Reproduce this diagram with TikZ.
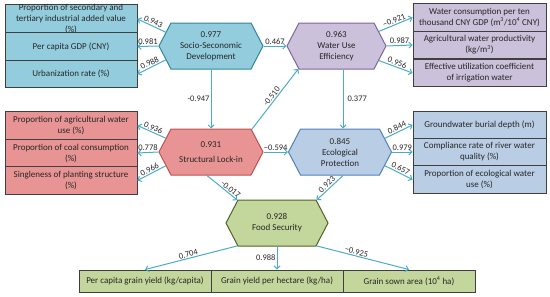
\documentclass[tikz,border=0pt]{standalone}
\usepackage{fontspec}
\setmainfont{Carlito}
\usetikzlibrary{shapes.symbols,arrows.meta}
\definecolor{cyanF}{HTML}{93CDDD}
\definecolor{cyanD}{HTML}{31859C}
\definecolor{purF}{HTML}{CCC1DA}
\definecolor{purD}{HTML}{8064A2}
\definecolor{redF}{HTML}{E99494}
\definecolor{redD}{HTML}{C0504D}
\definecolor{bluF}{HTML}{B9CDE5}
\definecolor{bluD}{HTML}{4F81BD}
\definecolor{grnF}{HTML}{C3D69B}
\definecolor{grnD}{HTML}{4F6228}
\definecolor{arrC}{HTML}{4BACC6}
\definecolor{txtC}{HTML}{262626}
\definecolor{boxD}{HTML}{3F3F3F}
\tikzset{
 ind/.style={draw=boxD, line width=0.9pt, minimum width=132pt, minimum height=27.5pt, inner sep=0pt, align=center, font=\fontsize{9}{11}\selectfont, text=txtC},
 lat/.style={signal, signal to=west and east, signal pointer angle=125, minimum width=104pt, minimum height=46pt, inner sep=0pt, line width=1pt, align=center, font=\fontsize{9}{11}\selectfont, text=txtC},
 arr/.style={draw=arrC, line width=1pt, -{Straight Barb[length=3pt,width=6pt]}},
 lab/.style={font=\fontsize{8.5}{10}\selectfont, text=txtC, inner sep=1pt},
}
\begin{document}
\begin{tikzpicture}[x=1pt,y=-1pt]
\useasboundingbox (0,0) rectangle (550,297);
% indicator boxes
\node[ind, fill=cyanF] (s1) at (71,19) {Proportion of secondary and\\tertiary industrial added value\\(\%)};
\node[ind, fill=cyanF] (s2) at (71,46.5) {Per capita GDP (CNY)};
\node[ind, fill=cyanF] (s3) at (71,74) {Urbanization rate (\%)};
\node[ind, fill=purF, minimum width=133pt] (w1) at (479.5,17.5) {Water consumption per ten\\thousand CNY GDP (m\textsuperscript{3}/10\textsuperscript{4} CNY)};
\node[ind, fill=purF, minimum width=133pt] (w2) at (479.5,45) {Agricultural water productivity\\(kg/m\textsuperscript{3})};
\node[ind, fill=purF, minimum width=133pt] (w3) at (479.5,73) {Effective utilization coefficient\\of irrigation water};
\node[ind, fill=redF] (t1) at (71,125.5) {Proportion of agricultural water\\use (\%)};
\node[ind, fill=redF] (t2) at (71,153) {Proportion of coal consumption\\(\%)};
\node[ind, fill=redF] (t3) at (71,180.5) {Singleness of planting structure\\(\%)};
\node[ind, fill=bluF, minimum width=133pt] (e1) at (479.5,125) {Groundwater burial depth (m)};
\node[ind, fill=bluF, minimum width=133pt] (e2) at (479.5,152) {Compliance rate of river water\\quality (\%)};
\node[ind, fill=bluF, minimum width=133pt] (e3) at (479.5,179.5) {Proportion of ecological water\\use (\%)};
\node[ind, fill=grnF, minimum height=22pt] (f1) at (145,281) {Per capita grain yield (kg/capita)};
\node[ind, fill=grnF, minimum height=22pt] (f2) at (277,281) {Grain yield per hectare (kg/ha)};
\node[ind, fill=grnF, minimum height=22pt] (f3) at (409,281) {Grain sown area (10\textsuperscript{4} ha)};
% latent hexagons
\node[lat, fill=cyanF, draw=cyanD] (soc) at (211,46) {0.977\\Socio-Seconomic\\Development};
\node[lat, fill=purF, draw=purD, minimum width=99pt] (wat) at (336.5,46) {0.963\\Water Use\\Efficiency};
\node[lat, fill=redF, draw=redD] (str) at (211,152) {0.931\\[4pt]Structural Lock-in};
\node[lat, fill=bluF, draw=bluD, minimum width=103pt] (eco) at (340,152) {0.845\\Ecological\\Protection};
\node[lat, fill=grnF, draw=grnD, minimum width=102pt] (food) at (277,223) {0.928\\Food Security};
% outer loadings
\draw[arr] (soc.163) -- node[lab,sloped,above]{0.943} (s1.east);
\draw[arr] (soc.west) -- node[lab,above]{0.981} (s2.east);
\draw[arr] (soc.197) -- node[lab,sloped,above]{0.988} (s3.east);
\draw[arr] (wat.19) -- node[lab,sloped,above]{−0.921} (w1.west);
\draw[arr] (wat.east) -- node[lab,above]{0.987} (w2.west);
\draw[arr] (wat.-19) -- node[lab,sloped,above]{0.956} (w3.west);
\draw[arr] (str.163) -- node[lab,sloped,above]{0.936} (t1.east);
\draw[arr] (str.west) -- node[lab,above]{0.778} (t2.east);
\draw[arr] (str.197) -- node[lab,sloped,above]{0.966} (t3.east);
\draw[arr] (eco.17) -- node[lab,sloped,above]{0.844} (e1.west);
\draw[arr] (eco.east) -- node[lab,above]{0.979} (e2.west);
\draw[arr] (eco.-17) -- node[lab,sloped,above]{0.657} (e3.west);
\draw[arr] (food.210) -- node[lab,sloped,above,pos=0.52]{0.704} (f1.north);
\draw[arr] (food.south) -- node[lab,left]{0.988} (f2.north);
\draw[arr] (food.330) -- node[lab,sloped,above,pos=0.42]{−0.925} (f3.north);
% path coefficients
\draw[arr] (soc.east) -- node[lab,above]{0.467} (wat.west);
\draw[arr] (soc.south) -- node[lab,left]{-0.947} (str.north);
\draw[arr] (str.29) -- node[lab,sloped,above]{-0.510} (wat.211);
\draw[arr] ([xshift=6.5]wat.south) -- node[lab,right,xshift=3pt]{0.377} ([xshift=6.5]wat.south |- eco.north);
\draw[arr] (str.east) -- node[lab,above]{−0.594} (eco.west);
\draw[arr] ([xshift=-4]str.south) -- node[lab,sloped,above,pos=0.7]{-0.017} (food.150);
\draw[arr] ([xshift=3]eco.south) -- node[lab,sloped,above]{0.923} (food.30);
\end{tikzpicture}
\end{document}
